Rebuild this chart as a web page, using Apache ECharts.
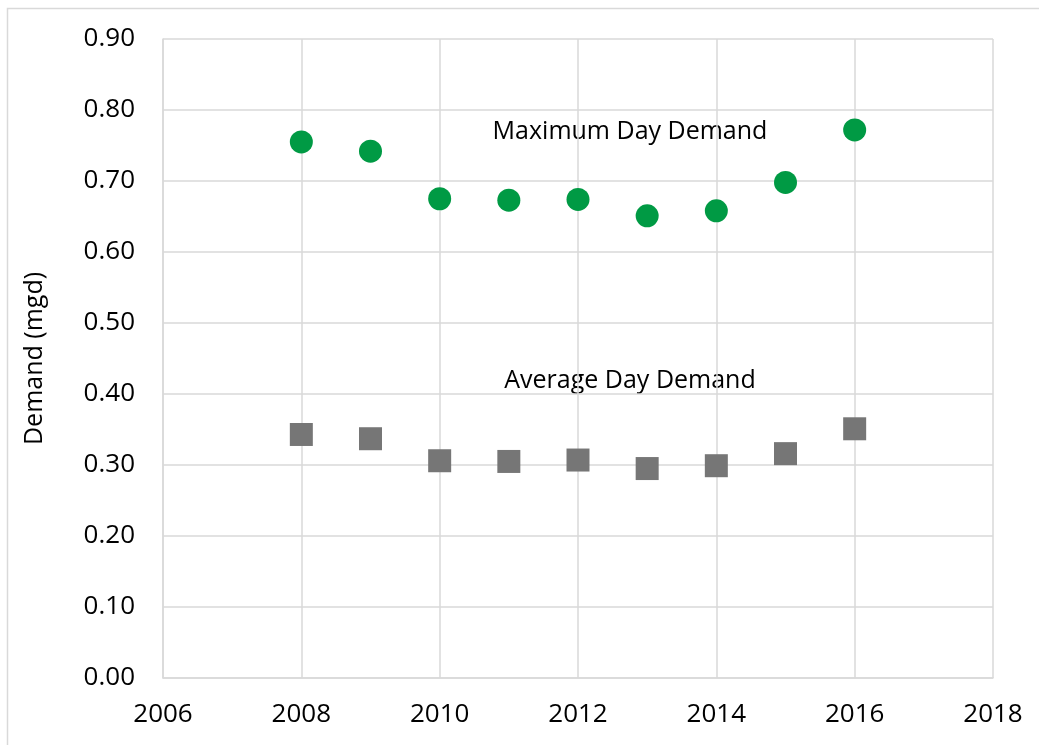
<!DOCTYPE html>
<html>
<head>
<meta charset="utf-8">
<script src="https://cdn.jsdelivr.net/npm/echarts@6/dist/echarts.min.js"></script>
<style>
html,body{margin:0;padding:0;background:#fff;}
#main{width:1039px;height:745px;}
</style>
</head>
<body>
<div id="main"></div>
<script>
var years = [2008, 2009, 2010, 2011, 2012, 2013, 2014, 2015, 2016];
var maxDay = [0.755, 0.742, 0.675, 0.673, 0.674, 0.651, 0.658, 0.698, 0.772];
var avgDay = [0.343, 0.337, 0.306, 0.305, 0.307, 0.295, 0.299, 0.316, 0.351];

var font = 'Open Sans';

function pairs(vals){
	var out = [];
	for(var i = 0; i < years.length; i++){
		out.push([years[i], vals[i]]);
	}
	return out;
}

var myChart = echarts.init(document.getElementById('main'));
myChart.setOption({
	animation: false,
	backgroundColor: '#fff',
	grid: {left: 163, right: 46, top: 39, bottom: 67},
	xAxis: {
		type: 'value', min: 2006, max: 2018, interval: 2,
		axisLine: {show: true, lineStyle: {color: '#d9d9d9', width: 1.5}},
		axisTick: {show: false},
		splitLine: {show: true, lineStyle: {color: '#d9d9d9', width: 1.5}},
		axisLabel: {color: '#000', fontFamily: font, fontSize: 26, margin: 24,
			formatter: function(v){ return String(v); }}
	},
	yAxis: {
		type: 'value', min: 0, max: 0.9, interval: 0.1,
		name: 'Demand (mgd)', nameLocation: 'middle', nameGap: 116, nameRotate: 90,
		nameTextStyle: {color: '#000', fontFamily: font, fontSize: 25},
		axisLine: {show: true, lineStyle: {color: '#d9d9d9', width: 1.5}},
		axisTick: {show: false},
		splitLine: {show: true, lineStyle: {color: '#d9d9d9', width: 1.5}},
		axisLabel: {color: '#000', fontFamily: font, fontSize: 26, margin: 28,
			formatter: function(v){ return v.toFixed(2); }}
	},
	series: [
		{
			name: 'Maximum Day Demand', type: 'scatter',
			symbol: 'circle', symbolSize: 23,
			itemStyle: {color: '#009a44', opacity: 1},
			data: pairs(maxDay)
		},
		{
			name: 'Average Day Demand', type: 'scatter',
			symbol: 'rect', symbolSize: 23,
			itemStyle: {color: '#767676', opacity: 1},
			data: pairs(avgDay)
		}
	],
	graphic: [
		{type: 'rect', shape: {x: 7.5, y: 8.5, width: 1060, height: 760}, style: {fill: 'none', stroke: '#d9d9d9', lineWidth: 1.5}, z: -1},
		{type: 'text', x: 630, y: 132, style: {text: 'Maximum Day Demand', fontFamily: font, fontSize: 25, fill: '#000', textAlign: 'center', textVerticalAlign: 'middle'}},
		{type: 'text', x: 630, y: 381, style: {text: 'Average Day Demand', fontFamily: font, fontSize: 25, fill: '#000', textAlign: 'center', textVerticalAlign: 'middle'}}
	]
});
</script>
</body>
</html>
